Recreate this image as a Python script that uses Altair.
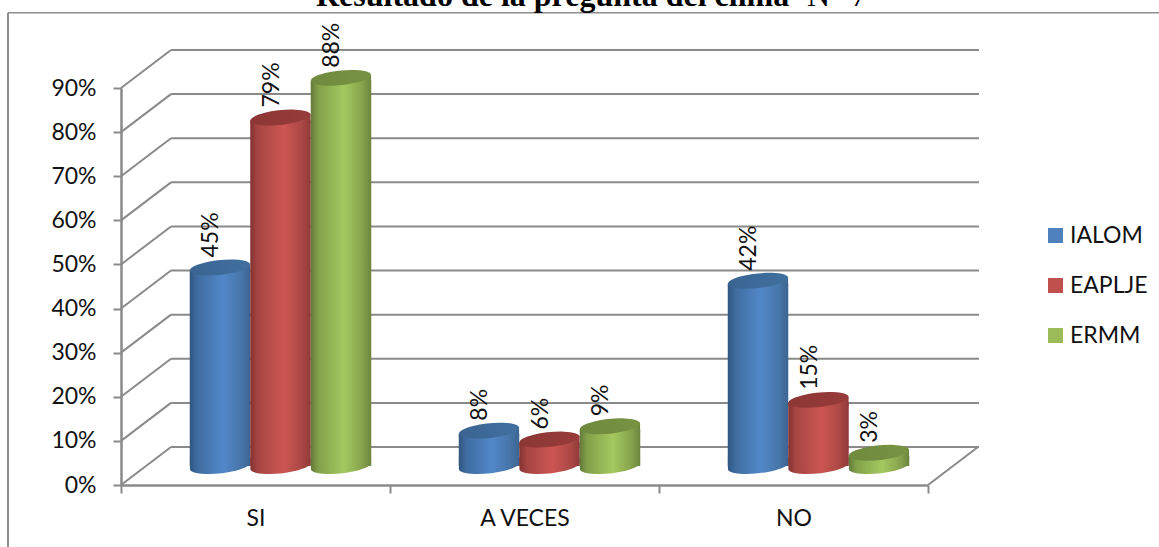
import altair as alt
import pandas as pd

categories = ["SI", "A VECES", "NO"]
series = ["IALOM", "EAPLJE", "ERMM"]
ialom = [0.45, 0.08, 0.42]
eaplje = [0.79, 0.06, 0.15]
ermm = [0.88, 0.09, 0.03]
y_ticks = [0.0, 0.1, 0.2, 0.3, 0.4, 0.5, 0.6, 0.7, 0.8, 0.9]
swatches = ["#4f81bd", "#c0504d", "#9bbb59"]

FONT = "Lato"
GRID = "#8a8a8a"

rows = []
for name, values in zip(series, [ialom, eaplje, ermm]):
    for cat, val in zip(categories, values):
        rows.append({"cat": cat, "serie": name, "val": val, "base": 0.0})
table = pd.DataFrame(rows)
ticks = pd.DataFrame({"tick": y_ticks})

# Symbol outlines: cylinder cap, foot with a short skirt, collar under the cap, wall diagonal
CAP = "M-0.9945,0.1045 A1,0.24,-6,1,0,0.9945,-0.1045 A1,0.24,-6,1,0,-0.9945,0.1045 Z"
FOOT = "M-0.9945,-0.3 L-0.9945,0.1045 A1,0.24,-6,1,0,0.9945,-0.1045 L0.9945,-0.3 Z"
COLLAR = "M-0.9945,0.1045 L0.9945,-0.1045 L0.9945,0.2 L-0.9945,0.2 Z"
DIAGONAL = "M0,0 L1,-0.76"
CYLINDER_SIZE = 3660
WALL_Y = -38
MID_Y = -19
TEXT_SIZE = 23
# Cylinders sit centred in each 269 px category band, shifted by half the box depth
GROUP_START = 68.75
GROUP_WIDTH = 181.5


def shade(stops):
    return alt.LinearGradient(
        gradient="linear", x1=0, x2=1, y1=0, y2=0,
        stops=[alt.GradientStop(offset=o, color=c) for o, c in stops],
    )


body_shades = {
    "IALOM": [(0, "#2f5680"), (0.12, "#3f6c9f"), (0.55, "#5287c9"), (0.85, "#4775a8"), (1, "#3c6491")],
    "EAPLJE": [(0, "#823230"), (0.12, "#a54543"), (0.55, "#cd5653"), (0.85, "#ab4845"), (1, "#8f3a38")],
    "ERMM": [(0, "#63793a"), (0.12, "#82a049"), (0.55, "#a5c860"), (0.85, "#86a34c"), (1, "#6c8440")],
}
cap_shades = {
    "IALOM": [(0, "#3a6492"), (1, "#41709f")],
    "EAPLJE": [(0, "#8c3735"), (1, "#973c3a")],
    "ERMM": [(0, "#6f893e"), (1, "#789342")],
}

x_scale = alt.Scale(domain=categories, paddingInner=0, paddingOuter=0)
y_scale = alt.Scale(domain=[0, 0.9], nice=False)

x_axis = alt.Axis(
    labelAngle=0, labelFont=FONT, labelFontSize=TEXT_SIZE, labelColor="#111111",
    tickBand="extent", tickSize=8, tickWidth=2, tickColor=GRID,
    domainColor=GRID, domainWidth=2.5, labelPadding=14, grid=False, title=None,
)
y_axis = alt.Axis(
    values=y_ticks, format=".0%", labelFont=FONT, labelFontSize=TEXT_SIZE,
    labelColor="#111111", tickSize=8, tickWidth=2, tickColor=GRID,
    domainColor=GRID, domainWidth=2.5, labelPadding=17, grid=False, title=None,
)

x_cat = alt.X("cat:N", scale=x_scale, axis=x_axis, sort=categories)
y_val = alt.Y("val:Q", scale=y_scale, axis=y_axis)
y_base = alt.Y("base:Q", scale=y_scale, axis=y_axis)
y_tick = alt.Y("tick:Q", scale=y_scale, axis=y_axis)
offset = alt.XOffset(
    "serie:N", sort=series,
    scale=alt.Scale(domain=series, range=[GROUP_START, GROUP_START + GROUP_WIDTH]),
)

# Back wall gridlines
back_grid = alt.Chart(ticks).mark_rule(
    color=GRID, strokeWidth=2, yOffset=WALL_Y
).encode(x=alt.value(50), x2=alt.value(858), y=y_tick)

# Side wall diagonals, front axis up to the back wall
side_grid = alt.Chart(ticks).mark_point(
    shape=DIAGONAL, size=10000, filled=False, stroke=GRID, strokeWidth=2, opacity=1
).encode(x=alt.value(0), y=y_tick)

# Right edge of the floor
floor_edge = alt.Chart(ticks[ticks.tick == 0]).mark_point(
    shape=DIAGONAL, size=10000, filled=False, stroke=GRID, strokeWidth=2, opacity=1
).encode(x=alt.value(807), y=y_tick)

# Invisible marks that carry the category axis and feed the legend
key = alt.Chart(table).mark_square(opacity=0, size=0).encode(
    x=x_cat,
    y=y_val,
    color=alt.Color(
        "serie:N", sort=series,
        scale=alt.Scale(domain=series, range=swatches),
        legend=alt.Legend(
            title=None, orient="none", legendX=923, legendY=136,
            symbolType="square", symbolSize=225, symbolOpacity=1,
            symbolStrokeWidth=0, labelFont=FONT, labelFontSize=TEXT_SIZE,
            labelColor="#111111", rowPadding=26, labelOffset=3, padding=0,
        ),
    ),
)

layers = [back_grid, side_grid, floor_edge, key]


def cylinder_symbol(data, outline, fill, y_enc):
    return alt.Chart(data).mark_point(
        shape=outline, size=CYLINDER_SIZE, filled=True, fill=fill,
        opacity=1, strokeWidth=0, yOffset=MID_Y,
    ).encode(x=x_cat, xOffset=offset, y=y_enc)


# One cylinder per bar: foot, body, collar, cap
for name in series:
    part = table[table.serie == name]
    body_fill = shade(body_shades[name])
    body = alt.Chart(part).mark_bar(
        color=body_fill, yOffset=MID_Y + 3, y2Offset=MID_Y,
    ).encode(x=x_cat, xOffset=offset, y=y_val, y2=alt.Y2("base:Q"))
    layers += [
        cylinder_symbol(part, FOOT, body_fill, y_base),
        body,
        cylinder_symbol(part, COLLAR, body_fill, y_val),
        cylinder_symbol(part, CAP, shade(cap_shades[name]), y_val),
    ]

# Rotated value labels above each cylinder
labels = alt.Chart(table).mark_text(
    angle=270, align="left", baseline="middle", font=FONT, fontSize=TEXT_SIZE,
    color="#111111", dy=-9, yOffset=MID_Y - 10,
).encode(
    x=x_cat, xOffset=offset, y=y_val,
    text=alt.Text("val:Q", format=".0%"),
)
layers.append(labels)

# Frame lines along the top and left edge
frame = pd.DataFrame({"a": [0]})
frame_top = alt.Chart(frame).mark_rule(color="#8e8e8e", strokeWidth=1.5).encode(
    x=alt.value(-113), x2=alt.value(1038), y=alt.value(-75.3)
)
frame_left = alt.Chart(frame).mark_rule(color="#8e8e8e", strokeWidth=2).encode(
    x=alt.value(-113), y=alt.value(-75.3), y2=alt.value(459)
)
layers += [frame_top, frame_left]

# Heading, partly cut by the top of the page
head_bold = alt.Chart(frame).mark_text(
    text="Resultado de la pregunta del clima", font="Liberation Serif", fontSize=32,
    fontWeight="bold", align="left", baseline="alphabetic", color="#000000",
).encode(x=alt.value(195), y=alt.value(-82.5))
head_plain = alt.Chart(frame).mark_text(
    text="N° 7", font="Liberation Serif", fontSize=32, align="left",
    baseline="alphabetic", color="#000000",
).encode(x=alt.value(686), y=alt.value(-82.5))
layers += [head_bold, head_plain]

chart = alt.layer(*layers).properties(
    width=807, height=397,
    background="white",
    autosize=alt.AutoSizeParams(type="none"),
    padding={"left": 121, "top": 88, "right": 231, "bottom": 62},
).configure_view(stroke=None)

chart.save("out.html", embed_options={"renderer": "svg", "actions": False})
